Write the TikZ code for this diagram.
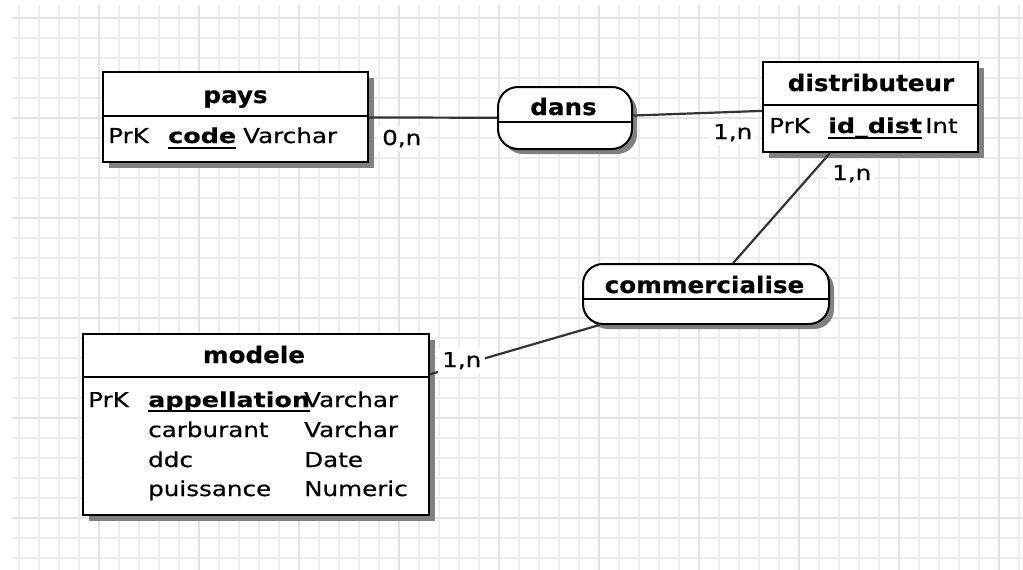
\documentclass[tikz,border=0pt]{standalone}
\usepackage{fontspec}
\setmainfont{DejaVu Sans}
\newfontfamily\bodyfont{DejaVu Sans}[FakeStretch=1.2, FakeBold=0.6]
\newfontfamily\keyfont{DejaVu Sans}[FakeStretch=1.24, BoldFeatures={FakeBold=0.4}]
\newfontfamily\headfont{DejaVu Sans}[FakeStretch=1.08, BoldFeatures={FakeBold=0.4}]
\usetikzlibrary{shadows}

\begin{document}
\begin{tikzpicture}[x=1pt,y=-1pt,
  gridminor/.style={draw=black!7, line width=2pt},
  gridmajor/.style={draw=black!11, line width=2pt},
  ent/.style={draw=black, line width=2pt, fill=white, inner sep=0pt,
    drop shadow={shadow xshift=6pt, shadow yshift=-6pt, fill=black!50, opacity=1}},
  rel/.style={draw=black, line width=2pt, fill=white, inner sep=0pt, rounded corners=20pt,
    drop shadow={shadow xshift=5pt, shadow yshift=-5pt, fill=black!50, opacity=1}},
  sepline/.style={draw=black, line width=2pt},
  title/.style={inner sep=0pt, anchor=base, font=\headfont\bfseries\fontsize{22.8}{26}\selectfont},
  attr/.style={inner sep=0pt, anchor=base west, font=\bodyfont\fontsize{20.5}{24}\selectfont},
  keyattr/.style={inner sep=0pt, anchor=base west, font=\keyfont\bfseries\fontsize{20.5}{24}\selectfont},
  uline/.style={draw=black, line width=2pt},
  link/.style={draw=black!80, line width=2.2pt},
  card/.style={fill=white, inner xsep=4pt, inner ysep=4pt, anchor=base west,
    font=\bodyfont\fontsize{20.5}{24}\selectfont}
]
% canvas
\useasboundingbox (0,0) rectangle (1023,570);
\fill[white] (0,0) rectangle (1023,570);

% background grid: minor lines every 20, heavier lines every 100
\foreach \k in {0,...,27} {
  \pgfmathsetmacro\yy{17.5+20*\k}
  \draw[gridminor] (12,\yy) -- (1023,\yy);
}
\foreach \k in {0,...,50} {
  \pgfmathsetmacro\xx{18.5+20*\k}
  \draw[gridminor] (\xx,5) -- (\xx,570);
}
\foreach \yy in {17.5,117.5,...,517.5}
  \draw[gridmajor] (12,\yy) -- (1023,\yy);
\foreach \xx in {98.5,198.5,...,998.5}
  \draw[gridmajor] (\xx,5) -- (\xx,570);

% entities
\node[ent, minimum width=265pt, minimum height=90pt] (pays) at (235.5,117) {};
\draw[sepline] ([yshift=-45pt]pays.north west) -- ([yshift=-45pt]pays.north east);
\node[title] (pays-t) at (235.5,103) {pays};
\node[attr] (pays-k) at (108,143) {PrK};
\node[keyattr] (pays-code) at (168,143) {code};
\node[attr] (pays-ty) at (243,143) {Varchar};
\draw[uline] ([yshift=-4.5pt]pays-code.base west) -- ([yshift=-4.5pt]pays-code.base east);

\node[ent, minimum width=215pt, minimum height=90pt] (dist) at (870.5,107) {};
\draw[sepline] ([yshift=-44pt]dist.north west) -- ([yshift=-44pt]dist.north east);
\node[title] (dist-t) at (871,91) {distributeur};
\node[attr] (dist-k) at (769,133) {PrK};
\node[keyattr] (dist-id) at (828,133) {id\_dist};
\node[attr] (dist-ty) at (925,133) {Int};
\draw[uline] ([yshift=-4.5pt]dist-id.base west) -- ([yshift=-4.5pt]dist-id.base east);

\node[ent, minimum width=346pt, minimum height=181pt] (modele) at (256,424.5) {};
\draw[sepline] ([yshift=-44pt]modele.north west) -- ([yshift=-44pt]modele.north east);
\node[title] (modele-t) at (254,363) {modele};
\node[attr] (modele-k) at (88,407) {PrK};
\node[keyattr] (modele-a1) at (148,407) {appellation};
\node[attr] (modele-t1) at (304,407) {Varchar};
\node[attr] (modele-a2) at (148,437) {carburant};
\node[attr] (modele-t2) at (304,437) {Varchar};
\node[attr] (modele-a3) at (148,467) {ddc};
\node[attr] (modele-t3) at (304,467) {Date};
\node[attr] (modele-a4) at (148,496) {puissance};
\node[attr] (modele-t4) at (304,496) {Numeric};
\draw[uline] ([yshift=-3.5pt]modele-a1.base west) -- ([yshift=-3.5pt]modele-a1.base east);

% associations
\node[rel, minimum width=134pt, minimum height=62pt] (dans) at (565,118) {};
\draw[sepline] ([yshift=-36pt]dans.north west) -- ([yshift=-36pt]dans.north east);
\node[title] (dans-t) at (563.5,115) {dans};

\node[rel, minimum width=246pt, minimum height=60pt] (comm) at (706,294) {};
\draw[sepline] ([yshift=-36pt]comm.north west) -- ([yshift=-36pt]comm.north east);
\node[title] (comm-t) at (704.5,293) {commercialise};

% links
\draw[link] (pays) -- (dans);
\draw[link] (dans) -- (dist);
\draw[link] (dist) -- (comm);
\draw[link] (comm) -- (modele);

% cardinalities
\node[card] (card-pays) at (378,145) {0,n};
\node[card] (card-dist1) at (709,139) {1,n};
\node[card] (card-dist2) at (828,180) {1,n};
\node[card] (card-modele) at (438,367) {1,n};
\end{tikzpicture}
\end{document}
